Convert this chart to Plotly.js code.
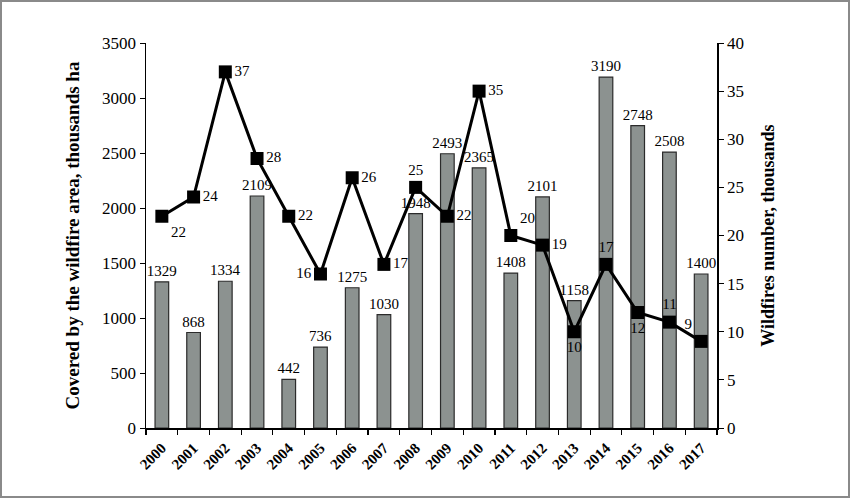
<!DOCTYPE html>
<html>
<head>
<meta charset="utf-8">
<script src="https://cdn.plot.ly/plotly-3.0.1.min.js"></script>
<style>
  html, body { margin: 0; padding: 0; background: #fff; }
  #wrap { position: relative; width: 850px; height: 498px; }
  #chart { width: 850px; height: 498px; }
  #frame {
    position: absolute; left: 0; top: 0; width: 850px; height: 498px;
    box-sizing: border-box; border: 2px solid #8a8a8a; pointer-events: none;
  }
</style>
</head>
<body>
<div id="wrap">
  <div id="chart"></div>
  <div id="frame"></div>
</div>
<script>
// Dados
const years = [2000, 2001, 2002, 2003, 2004, 2005, 2006, 2007, 2008,
  2009, 2010, 2011, 2012, 2013, 2014, 2015, 2016, 2017];
const areaValues = [1329, 868, 1334, 2109, 442, 736, 1275, 1030, 1948,
  2493, 2365, 1408, 2101, 1158, 3190, 2748, 2508, 1400];
const fireCounts = [22, 24, 37, 28, 22, 16, 26, 17, 25,
  22, 35, 20, 19, 10, 17, 12, 11, 9];

// posição dos rótulos da linha (para evitar sobreposição)
const countLabelPos = ['bottom right', 'middle right', 'middle right', 'middle right',
  'middle right', 'middle left', 'middle right', 'middle right', 'top center',
  'middle right', 'middle right', 'top right', 'middle right', 'bottom center',
  'top center', 'bottom center', 'top center', 'top left'];

const serif = '"Liberation Serif", "Times New Roman", serif';
const labelFont = { family: serif, size: 15, color: '#000' };

const areaTrace = {
  type: 'bar',
  x: years,
  y: areaValues,
  text: areaValues.map(String),
  textposition: 'outside',
  constraintext: 'none',
  cliponaxis: false,
  textfont: labelFont,
  outsidetextfont: labelFont,
  marker: { color: '#8c9290', line: { color: '#2b2b2b', width: 1.2 } },
  hoverinfo: 'x+y',
  showlegend: false
};

const countTrace = {
  type: 'scatter',
  mode: 'lines+markers+text',
  x: years,
  y: fireCounts,
  yaxis: 'y2',
  text: fireCounts.map(String),
  textposition: countLabelPos,
  cliponaxis: false,
  textfont: labelFont,
  line: { color: '#000', width: 3 },
  marker: { symbol: 'square', size: 13, color: '#000' },
  showlegend: false
};

const layout = {
  width: 850,
  height: 498,
  paper_bgcolor: '#fff',
  plot_bgcolor: '#fff',
  margin: { l: 146, r: 133, t: 43, b: 70 },
  font: { family: serif, size: 15, color: '#000' },
  bargap: 0.57,
  xaxis: {
    range: [1999.5, 2017.5],
    tickmode: 'linear',
    tick0: 2000,
    dtick: 1,
    ticks: '',
    showline: true,
    linecolor: '#000',
    linewidth: 1.5,
    tickangle: -45,
    ticklabelstandoff: 4,
    automargin: false,
    tickfont: { family: serif, size: 15, weight: 'bold' },
    // marcas nos limites entre anos
    minor: { tick0: 1999.5, dtick: 1, ticks: 'outside', ticklen: 5, tickcolor: '#000', tickwidth: 1.2, showgrid: false },
    showgrid: false,
    zeroline: false
  },
  yaxis: {
    range: [0, 3500],
    dtick: 500,
    showline: true,
    linecolor: '#000',
    linewidth: 1.5,
    ticks: 'outside',
    ticklen: 5,
    tickcolor: '#000',
    tickfont: { family: serif, size: 17 },
    showgrid: false,
    zeroline: false,
    automargin: false,
    title: {
      text: 'Covered by the wildfire area, thousands ha',
      font: { family: serif, size: 19, weight: 'bold' },
      standoff: 17
    }
  },
  yaxis2: {
    overlaying: 'y',
    side: 'right',
    range: [0, 40],
    dtick: 5,
    showline: true,
    linecolor: '#000',
    linewidth: 1.5,
    ticks: 'outside',
    ticklen: 5,
    tickcolor: '#000',
    tickfont: { family: serif, size: 17 },
    showgrid: false,
    zeroline: false,
    automargin: false,
    title: {
      text: 'Wildfires number, thousands',
      font: { family: serif, size: 18, weight: 'bold' },
      standoff: 18
    }
  }
};

Plotly.newPlot('chart', [areaTrace, countTrace], layout, { displayModeBar: false, staticPlot: true });
</script>
</body>
</html>
